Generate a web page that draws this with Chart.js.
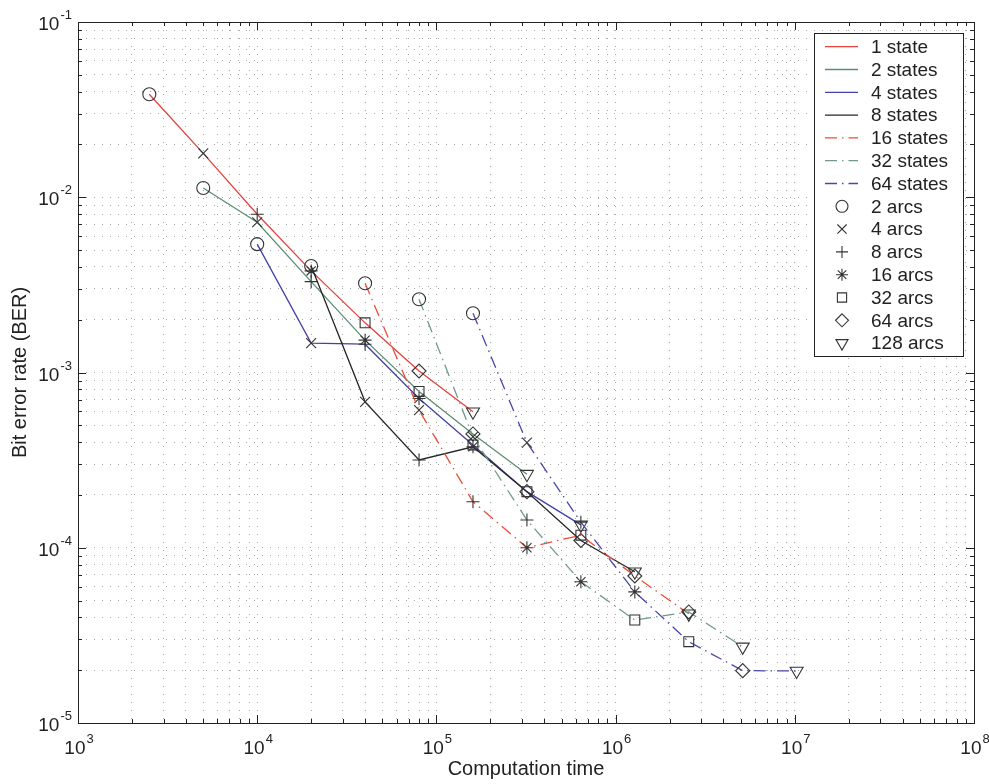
<!DOCTYPE html>
<html>
<head>
<meta charset="utf-8">
<title>Bit error rate vs computation time</title>
<script src="https://cdn.jsdelivr.net/npm/chart.js@4.4.0/dist/chart.umd.min.js"></script>
<style>
  html, body { margin: 0; padding: 0; background: #ffffff; }
  canvas { display: block; }
</style>
</head>
<body>
<canvas id="ber" width="989" height="784"></canvas>
<script>
// Bit error rate against computation time: one curve per trellis size
// (number of states), one marker shape per number of arcs kept.

const stateLabels = ['1 state', '2 states', '4 states', '8 states', '16 states', '32 states', '64 states'];
const arcLabels   = ['2 arcs', '4 arcs', '8 arcs', '16 arcs', '32 arcs', '64 arcs', '128 arcs'];

// computation time for 2, 4, 8, ... 128 arcs
const time1  = [2.5e3, 5e3,   1e4,   2e4,    4e4,    8e4,    1.6e5];
const time2  = [5e3,   1e4,   2e4,   4e4,    8e4,    1.6e5,  3.2e5];
const time4  = [1e4,   2e4,   4e4,   8e4,    1.6e5,  3.2e5,  6.4e5];
const time8  = [2e4,   4e4,   8e4,   1.6e5,  3.2e5,  6.4e5,  1.28e6];
const time16 = [4e4,   8e4,   1.6e5, 3.2e5,  6.4e5,  1.28e6, 2.56e6];
const time32 = [8e4,   1.6e5, 3.2e5, 6.4e5,  1.28e6, 2.56e6, 5.12e6];
const time64 = [1.6e5, 3.2e5, 6.4e5, 1.28e6, 2.56e6, 5.12e6, 1.024e7];

// bit error rate for 2, 4, 8, ... 128 arcs
const ber1  = [3.87e-2, 1.78e-2, 8.0e-3,  3.8e-3,  1.92e-3, 1.02e-3, 5.97e-4];
const ber2  = [1.13e-2, 7.2e-3,  3.3e-3,  1.53e-3, 7.8e-4,  4.46e-4, 2.63e-4];
const ber4  = [5.4e-3,  1.47e-3, 1.45e-3, 7.1e-4,  3.86e-4, 2.09e-4, 1.35e-4];
const ber8  = [4.05e-3, 6.8e-4,  3.17e-4, 3.77e-4, 2.09e-4, 1.1e-4,  7.3e-5];
const ber16 = [3.23e-3, 6.1e-4,  1.83e-4, 1.0e-4,  1.18e-4, 6.9e-5,  4.2e-5];
const ber32 = [2.62e-3, 4.3e-4,  1.44e-4, 6.4e-5,  3.87e-5, 4.3e-5,  2.72e-5];
const ber64 = [2.18e-3, 3.98e-4, 1.4e-4,  5.6e-5,  2.91e-5, 1.99e-5, 1.98e-5];

// axis decades carrying tick labels
const xDecades = [1e3, 1e4, 1e5, 1e6, 1e7, 1e8];
const yDecades = [1e-5, 1e-4, 1e-3, 1e-2, 1e-1];

const times = [time1, time2, time4, time8, time16, time32, time64];
const bers  = [ber1, ber2, ber4, ber8, ber16, ber32, ber64];

// styling
const FONT = '"Liberation Sans", Arial, Helvetica, sans-serif';
const TEXT = '#222222';
const lineColors = ['#e5413d', '#5f8c74', '#4242a8', '#262626', '#ec4d36', '#6f9a86', '#4747ad'];
const dashDot = [12, 5, 1.5, 5];
const lineDashes = [[], [], [], [], dashDot, dashDot, dashDot];
const markerColor = '#333333';
const arcMarkers = ['circle', 'crossRot', 'cross', 'star', 'rect', 'rectRot', 'triangle'];
const arcRotation = [0, 0, 0, 0, 0, 0, 180];
const markerRadius = { circle: 6.5, crossRot: 7, cross: 6.5, star: 6.5, rect: 7, rectRot: 7, triangle: 7.5 };

function exponentOf(v) { return String(Math.round(Math.log10(v))); }
function isDecade(v, decades) {
  return decades.some(d => Math.abs(Math.log10(v) - Math.log10(d)) < 1e-9);
}
// 1..9 x 10^n between the first and last decade
function logGrid(decades) {
  const out = [];
  for (let i = 0; i < decades.length - 1; i++) {
    for (let m = 1; m <= 9; m++) out.push(decades[i] * m);
  }
  out.push(decades[decades.length - 1]);
  return out;
}

const datasets = stateLabels.map((label, i) => ({
  label,
  data: times[i].map((t, k) => ({ x: t, y: bers[i][k] })),
  borderColor: lineColors[i],
  borderWidth: 1.3,
  borderDash: lineDashes[i],
  fill: false,
  tension: 0,
  order: stateLabels.length - i,
  pointStyle: arcMarkers,
  pointRotation: arcRotation,
  pointRadius: arcMarkers.map(s => markerRadius[s]),
  pointHoverRadius: arcMarkers.map(s => markerRadius[s]),
  pointBorderColor: markerColor,
  pointBackgroundColor: 'rgba(0,0,0,0)',
  pointBorderWidth: 1.1
}));

function drawMarker(ctx, style, x, y, r) {
  ctx.beginPath();
  const d = r * Math.SQRT1_2;
  switch (style) {
    case 'circle': ctx.arc(x, y, r, 0, Math.PI * 2); break;
    case 'crossRot':
      ctx.moveTo(x - d, y - d); ctx.lineTo(x + d, y + d);
      ctx.moveTo(x - d, y + d); ctx.lineTo(x + d, y - d); break;
    case 'cross':
      ctx.moveTo(x - r, y); ctx.lineTo(x + r, y);
      ctx.moveTo(x, y - r); ctx.lineTo(x, y + r); break;
    case 'star':
      ctx.moveTo(x - r, y); ctx.lineTo(x + r, y);
      ctx.moveTo(x, y - r); ctx.lineTo(x, y + r);
      ctx.moveTo(x - d, y - d); ctx.lineTo(x + d, y + d);
      ctx.moveTo(x - d, y + d); ctx.lineTo(x + d, y - d); break;
    case 'rect': ctx.rect(x - d, y - d, 2 * d, 2 * d); break;
    case 'rectRot':
      ctx.moveTo(x, y - r); ctx.lineTo(x + r, y); ctx.lineTo(x, y + r); ctx.lineTo(x - r, y); ctx.closePath(); break;
    case 'triangle': {
      const s = Math.sin(Math.PI / 3) * r;
      ctx.moveTo(x - s, y - r / 2); ctx.lineTo(x + s, y - r / 2); ctx.lineTo(x, y + r); ctx.closePath(); break;
    }
  }
  ctx.stroke();
}

// "10" with a raised exponent; (x, baseline) is the left end of the "10"
const BASE_FONT = '19px ' + FONT;
const EXP_FONT = '13px ' + FONT;
function powerWidth(ctx, exp) {
  ctx.font = BASE_FONT; const w1 = ctx.measureText('10').width;
  ctx.font = EXP_FONT; const w2 = ctx.measureText(exp).width;
  return { w1, w2, total: w1 + 1 + w2 };
}
function drawPower(ctx, exp, x, baseline) {
  const m = powerWidth(ctx, exp);
  ctx.font = BASE_FONT;
  ctx.fillText('10', x, baseline);
  ctx.font = EXP_FONT;
  ctx.fillText(exp, x + m.w1 + 1, baseline - 11);
}

// decade labels, axes box, inward tick marks and the key
const frameAndKey = {
  id: 'frameAndKey',
  afterDraw(chart) {
    const { ctx, chartArea: a, scales } = chart;
    ctx.save();

    // decade tick labels
    ctx.fillStyle = TEXT;
    ctx.textAlign = 'left';
    ctx.textBaseline = 'alphabetic';
    scales.x.ticks.forEach(t => {
      if (!isDecade(t.value, xDecades)) return;
      const exp = exponentOf(t.value);
      const px = scales.x.getPixelForValue(t.value);
      const m = powerWidth(ctx, exp);
      drawPower(ctx, exp, px - m.total / 2 + 1, a.bottom + 31);
    });
    scales.y.ticks.forEach(t => {
      if (!isDecade(t.value, yDecades)) return;
      const exp = exponentOf(t.value);
      const py = scales.y.getPixelForValue(t.value);
      const m = powerWidth(ctx, exp);
      drawPower(ctx, exp, a.left - 6 - m.total, py + 8);
    });

    ctx.strokeStyle = '#222222';
    ctx.lineWidth = 1;
    // ticks
    const major = 8, minor = 4;
    scales.x.ticks.forEach(t => {
      const px = Math.round(scales.x.getPixelForValue(t.value)) + 0.5;
      const len = isDecade(t.value, xDecades) ? major : minor;
      ctx.beginPath();
      ctx.moveTo(px, a.bottom); ctx.lineTo(px, a.bottom - len);
      ctx.moveTo(px, a.top); ctx.lineTo(px, a.top + len);
      ctx.stroke();
    });
    scales.y.ticks.forEach(t => {
      const py = Math.round(scales.y.getPixelForValue(t.value)) + 0.5;
      const len = isDecade(t.value, yDecades) ? major : minor;
      ctx.beginPath();
      ctx.moveTo(a.left, py); ctx.lineTo(a.left + len, py);
      ctx.moveTo(a.right, py); ctx.lineTo(a.right - len, py);
      ctx.stroke();
    });
    ctx.strokeRect(Math.round(a.left) + 0.5, Math.round(a.top) + 0.5,
                   Math.round(a.right - a.left), Math.round(a.bottom - a.top));

    // key
    const bx = 814.5, by = 33.5, bw = 149, rowH = 22.8, firstRow = 46.7;
    const rows = stateLabels.length + arcLabels.length;
    const bh = Math.round(firstRow - by + (rows - 1) * rowH + 13);
    ctx.fillStyle = '#ffffff';
    ctx.fillRect(bx, by, bw, bh);
    ctx.strokeRect(bx, by, bw, bh);
    ctx.font = '19px ' + FONT;
    ctx.textBaseline = 'middle';
    ctx.textAlign = 'left';
    const textX = 871, lx0 = 825, lx1 = 858, mx = 842;
    stateLabels.forEach((label, i) => {
      const y = firstRow + i * rowH;
      ctx.save();
      ctx.strokeStyle = lineColors[i];
      ctx.lineWidth = 1.3;
      ctx.setLineDash(lineDashes[i]);
      ctx.beginPath();
      ctx.moveTo(lx0, y); ctx.lineTo(lx1, y);
      ctx.stroke();
      ctx.restore();
      ctx.fillStyle = TEXT;
      ctx.fillText(label, textX, y + 1);
    });
    arcLabels.forEach((label, k) => {
      const y = firstRow + (stateLabels.length + k) * rowH;
      ctx.save();
      ctx.strokeStyle = markerColor;
      ctx.lineWidth = 1.1;
      drawMarker(ctx, arcMarkers[k], mx, y, markerRadius[arcMarkers[k]] - 0.5);
      ctx.restore();
      ctx.fillStyle = TEXT;
      ctx.fillText(label, textX, y + 1);
    });
    ctx.restore();
  }
};

const gridStyle = {
  color: 'rgba(80,80,80,0.5)',
  lineWidth: 1,
  drawTicks: false
};

new Chart(document.getElementById('ber'), {
  type: 'line',
  data: { datasets },
  plugins: [frameAndKey],
  options: {
    responsive: false,
    animation: false,
    layout: { padding: { top: 22, right: 15, left: 0, bottom: 0 } },
    plugins: { legend: { display: false }, tooltip: { enabled: false } },
    scales: {
      x: {
        type: 'logarithmic',
        min: xDecades[0],
        max: xDecades[xDecades.length - 1],
        afterBuildTicks: s => { s.ticks = logGrid(xDecades).map(v => ({ value: v })); },
        afterFit: s => { s.height = 61; },
        grid: gridStyle,
        border: { display: false, dash: [1, 7] },
        ticks: { display: false, autoSkip: false },
        title: {
          display: true,
          text: 'Computation time',
          color: TEXT,
          font: { family: FONT, size: 20 },
          padding: { top: 0, bottom: 3 }
        }
      },
      y: {
        type: 'logarithmic',
        min: yDecades[0],
        max: yDecades[yDecades.length - 1],
        afterBuildTicks: s => { s.ticks = logGrid(yDecades).map(v => ({ value: v })); },
        afterFit: s => { s.width = 78; },
        grid: gridStyle,
        border: { display: false, dash: [1, 7] },
        ticks: { display: false, autoSkip: false },
        title: {
          display: true,
          text: 'Bit error rate (BER)',
          color: TEXT,
          font: { family: FONT, size: 20 },
          padding: { top: 8, bottom: 0 }
        }
      }
    }
  }
});
</script>
</body>
</html>
